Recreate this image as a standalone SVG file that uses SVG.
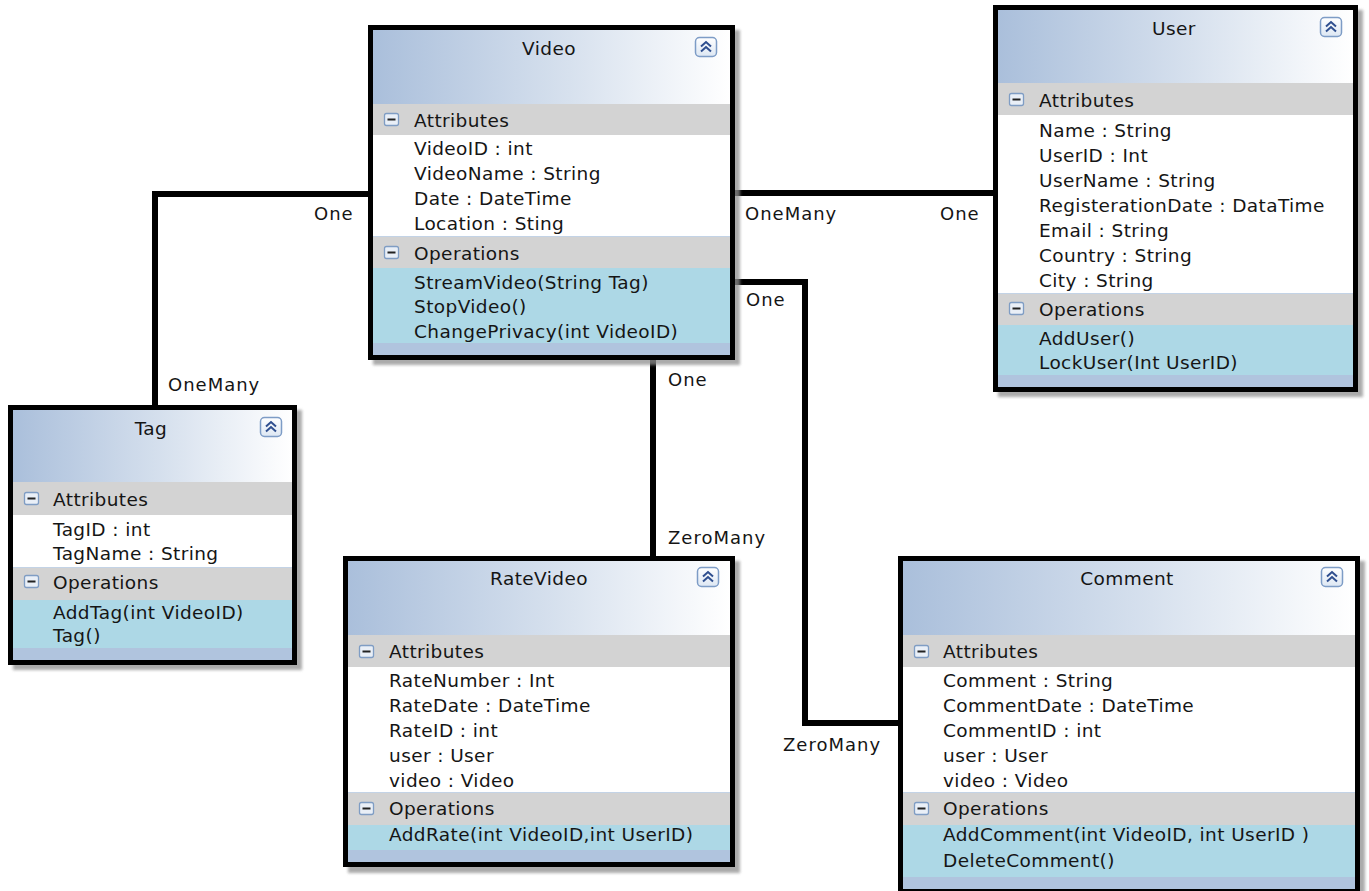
<svg xmlns="http://www.w3.org/2000/svg" width="1369" height="891" viewBox="0 0 1369 891">
  <defs>
    <linearGradient id="hdr" x1="0" y1="0" x2="1" y2="0">
      <stop offset="0" stop-color="#aabfdb"/>
      <stop offset="0.55" stop-color="#d7e1ee"/>
      <stop offset="1" stop-color="#ffffff"/>
    </linearGradient>
    <linearGradient id="btn" x1="0" y1="0" x2="0" y2="1">
      <stop offset="0" stop-color="#ffffff"/>
      <stop offset="1" stop-color="#dde7f3"/>
    </linearGradient>
    <filter id="soft" x="-5%" y="-5%" width="110%" height="110%">
      <feGaussianBlur stdDeviation="1.6"/>
    </filter>
    <!-- collapse button in the class header -->
    <g id="collapse">
      <rect x="0.5" y="0.5" width="21" height="19" rx="4" fill="url(#btn)" stroke="#7d9cc6" stroke-width="1.5"/>
      <path d="M6 9.5 L11 5 L16 9.5 M6 14.5 L11 10 L16 14.5" fill="none" stroke="#2f4f8f" stroke-width="2"/>
    </g>
    <!-- toggle in front of a compartment title -->
    <g id="minus">
      <rect x="0.5" y="0.5" width="14" height="12" rx="2" fill="#e9eff7" stroke="#7f9dc4" stroke-width="1.3"/>
      <rect x="3.5" y="5.5" width="8" height="2" fill="#222"/>
    </g>
  </defs>
  <style>
    text { font-family: "DejaVu Sans", Verdana, sans-serif; font-size: 18.5px; letter-spacing: 0.4px; fill: #151515; }
    .title { text-anchor: middle; }
    .lbl { font-size: 18px; letter-spacing: 1px; }
    .shadow { fill: #8f8f8f; opacity: 0.75; filter: url(#soft); }
    .head { fill: url(#hdr); }
    .sec { fill: #d3d3d3; }
    .attr { fill: #ffffff; }
    .ops { fill: #add8e6; }
    .foot { fill: #b0c4de; }
    .sep { stroke: #c3d3e6; stroke-width: 1; }
    .frame { fill: none; stroke: #000; stroke-width: 5; }
    .conn { fill: none; stroke: #000; stroke-width: 6; stroke-linejoin: miter; }
  </style>

  <rect width="1369" height="891" fill="#ffffff"/>

  <!-- associations -->
  <g id="connectors">
    <path class="conn" d="M370 194 H155 V406"/>
    <path class="conn" d="M733 193 H995"/>
    <path class="conn" d="M733 282 H805 V723 H900"/>
    <path class="conn" d="M653 358 V558"/>
    <text class="lbl" x="314" y="220">One</text>
    <text class="lbl" x="168" y="391">OneMany</text>
    <text class="lbl" x="745" y="220">OneMany</text>
    <text class="lbl" x="940" y="220">One</text>
    <text class="lbl" x="746" y="306">One</text>
    <text class="lbl" x="783" y="751">ZeroMany</text>
    <text class="lbl" x="668" y="386">One</text>
    <text class="lbl" x="668" y="544">ZeroMany</text>
  </g>

  <!-- Video -->
  <g id="video">
    <rect class="shadow" x="373" y="30" width="367" height="335"/>
    <rect class="head" x="373" y="30" width="357" height="74"/>
    <rect class="sec" x="373" y="104" width="357" height="31"/>
    <rect class="attr" x="373" y="135" width="357" height="101"/>
    <rect class="sec" x="373" y="236" width="357" height="32"/>
    <line class="sep" x1="373" y1="236.5" x2="730" y2="236.5"/>
    <rect class="ops" x="373" y="268" width="357" height="75"/>
    <rect class="foot" x="373" y="343" width="357" height="12"/>
    <rect class="frame" x="370.5" y="27.5" width="362" height="330"/>
    <text class="title" x="549" y="55">Video</text>
    <use href="#collapse" x="695" y="37"/>
    <use href="#minus" x="384" y="113"/>
    <text x="414" y="127">Attributes</text>
    <text x="414" y="155">VideoID : int</text>
    <text x="414" y="180">VideoName : String</text>
    <text x="414" y="205">Date : DateTime</text>
    <text x="414" y="230">Location : Sting</text>
    <use href="#minus" x="384" y="246"/>
    <text x="414" y="260">Operations</text>
    <text x="414" y="289">StreamVideo(String Tag)</text>
    <text x="414" y="313">StopVideo()</text>
    <text x="414" y="338">ChangePrivacy(int VideoID)</text>
  </g>

  <!-- User -->
  <g id="user">
    <rect class="shadow" x="998" y="10" width="365" height="387"/>
    <rect class="head" x="998" y="10" width="355" height="73"/>
    <rect class="sec" x="998" y="83" width="355" height="32"/>
    <rect class="attr" x="998" y="115" width="355" height="178"/>
    <rect class="sec" x="998" y="293" width="355" height="32"/>
    <line class="sep" x1="998" y1="293.5" x2="1353" y2="293.5"/>
    <rect class="ops" x="998" y="325" width="355" height="50"/>
    <rect class="foot" x="998" y="375" width="355" height="12"/>
    <rect class="frame" x="995.5" y="7.5" width="360" height="382"/>
    <text class="title" x="1174" y="35">User</text>
    <use href="#collapse" x="1320" y="17"/>
    <use href="#minus" x="1009" y="93"/>
    <text x="1039" y="107">Attributes</text>
    <text x="1039" y="137">Name : String</text>
    <text x="1039" y="162">UserID : Int</text>
    <text x="1039" y="187">UserName : String</text>
    <text x="1039" y="212">RegisterationDate : DataTime</text>
    <text x="1039" y="237">Email : String</text>
    <text x="1039" y="262">Country : String</text>
    <text x="1039" y="287">City : String</text>
    <use href="#minus" x="1009" y="302"/>
    <text x="1039" y="316">Operations</text>
    <text x="1039" y="345">AddUser()</text>
    <text x="1039" y="369">LockUser(Int UserID)</text>
  </g>

  <!-- Tag -->
  <g id="tag">
    <rect class="shadow" x="13" y="410" width="289" height="260"/>
    <rect class="head" x="13" y="410" width="279" height="72"/>
    <rect class="sec" x="13" y="482" width="279" height="33"/>
    <rect class="attr" x="13" y="515" width="279" height="52"/>
    <rect class="sec" x="13" y="567" width="279" height="33"/>
    <line class="sep" x1="13" y1="567.5" x2="292" y2="567.5"/>
    <rect class="ops" x="13" y="600" width="279" height="48"/>
    <rect class="foot" x="13" y="648" width="279" height="12"/>
    <rect class="frame" x="10.5" y="407.5" width="284" height="255"/>
    <text class="title" x="151" y="435">Tag</text>
    <use href="#collapse" x="260" y="417"/>
    <use href="#minus" x="24" y="492"/>
    <text x="53" y="506">Attributes</text>
    <text x="53" y="536">TagID : int</text>
    <text x="53" y="560">TagName : String</text>
    <use href="#minus" x="24" y="575"/>
    <text x="53" y="589">Operations</text>
    <text x="53" y="619">AddTag(int VideoID)</text>
    <text x="53" y="642">Tag()</text>
  </g>

  <!-- RateVideo -->
  <g id="ratevideo">
    <rect class="shadow" x="348" y="561" width="392" height="312"/>
    <rect class="head" x="348" y="561" width="382" height="74"/>
    <rect class="sec" x="348" y="635" width="382" height="32"/>
    <rect class="attr" x="348" y="667" width="382" height="125"/>
    <rect class="sec" x="348" y="792" width="382" height="33"/>
    <line class="sep" x1="348" y1="792.5" x2="730" y2="792.5"/>
    <rect class="ops" x="348" y="825" width="382" height="25"/>
    <rect class="foot" x="348" y="850" width="382" height="12"/>
    <rect class="frame" x="345.5" y="558.5" width="387" height="306"/>
    <text class="title" x="539" y="585">RateVideo</text>
    <use href="#collapse" x="697" y="567"/>
    <use href="#minus" x="359" y="645"/>
    <text x="389" y="658">Attributes</text>
    <text x="389" y="687">RateNumber : Int</text>
    <text x="389" y="712">RateDate : DateTime</text>
    <text x="389" y="737">RateID : int</text>
    <text x="389" y="762">user : User</text>
    <text x="389" y="787">video : Video</text>
    <use href="#minus" x="359" y="802"/>
    <text x="389" y="815">Operations</text>
    <text x="389" y="841">AddRate(int VideoID,int UserID)</text>
  </g>

  <!-- Comment -->
  <g id="comment">
    <rect class="shadow" x="903" y="561" width="462" height="340"/>
    <rect class="head" x="903" y="561" width="452" height="74"/>
    <rect class="sec" x="903" y="635" width="452" height="32"/>
    <rect class="attr" x="903" y="667" width="452" height="125"/>
    <rect class="sec" x="903" y="792" width="452" height="33"/>
    <line class="sep" x1="903" y1="792.5" x2="1355" y2="792.5"/>
    <rect class="ops" x="903" y="825" width="452" height="52"/>
    <rect class="foot" x="903" y="877" width="452" height="12"/>
    <rect class="frame" x="900.5" y="558.5" width="457" height="333"/>
    <text class="title" x="1127" y="585">Comment</text>
    <use href="#collapse" x="1321" y="567"/>
    <use href="#minus" x="914" y="645"/>
    <text x="943" y="658">Attributes</text>
    <text x="943" y="687">Comment : String</text>
    <text x="943" y="712">CommentDate : DateTime</text>
    <text x="943" y="737">CommentID : int</text>
    <text x="943" y="762">user : User</text>
    <text x="943" y="787">video : Video</text>
    <use href="#minus" x="914" y="802"/>
    <text x="943" y="815">Operations</text>
    <text x="943" y="841">AddComment(int VideoID, int UserID )</text>
    <text x="943" y="867">DeleteComment()</text>
  </g>
</svg>
